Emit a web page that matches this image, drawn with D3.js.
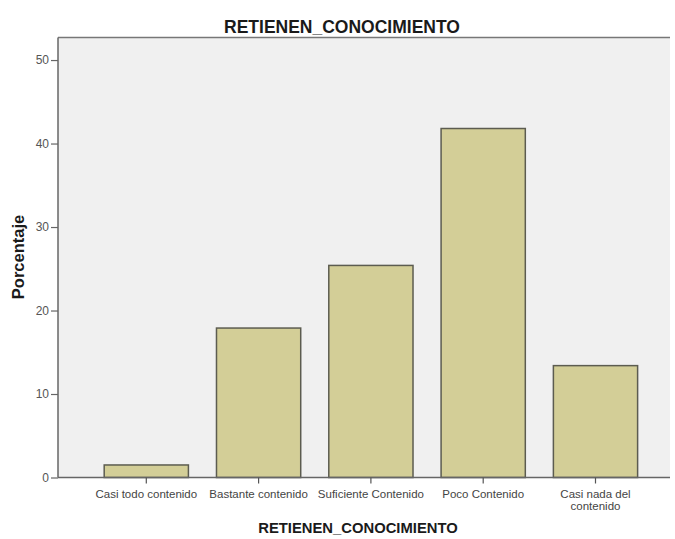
<!DOCTYPE html>
<html>
<head>
<meta charset="utf-8">
<script src="https://cdn.jsdelivr.net/npm/d3@7"></script>
<style>
  html, body { margin: 0; padding: 0; background: #ffffff; }
  svg { display: block; font-family: "Liberation Sans", Arial, sans-serif; }
</style>
</head>
<body>
<svg id="chart" width="675" height="539"></svg>
<script>
const categories = ["Casi todo contenido", "Bastante contenido", "Suficiente Contenido", "Poco Contenido", "Casi nada del contenido"];
const categoryLines = [["Casi todo contenido"], ["Bastante contenido"], ["Suficiente Contenido"], ["Poco Contenido"], ["Casi nada del", "contenido"]];
const values = [1.5, 17.9, 25.4, 41.8, 13.4];
const yTicks = [0, 10, 20, 30, 40, 50];
const chartTitle = "RETIENEN_CONOCIMIENTO";
const xTitle = "RETIENEN_CONOCIMIENTO";
const yTitle = "Porcentaje";

const svg = d3.select("#chart");
const plot = { left: 58, right: 670, top: 37.5, bottom: 477.5 };

const x = d3.scaleBand()
  .domain(categories)
  .range([90.15, 651.65])
  .paddingInner(0.25)
  .paddingOuter(0.125);

const y = d3.scaleLinear()
  .domain([0, 52.7])
  .range([plot.bottom, plot.top]);

// plot background
svg.append("rect")
  .attr("x", plot.left).attr("y", plot.top)
  .attr("width", plot.right - plot.left).attr("height", plot.bottom - plot.top)
  .attr("fill", "#f0f0f0");

// top frame line
svg.append("line")
  .attr("x1", plot.left).attr("x2", plot.right)
  .attr("y1", plot.top).attr("y2", plot.top)
  .attr("stroke", "#777").attr("stroke-width", 1.5);

// bars
svg.append("g").selectAll("rect")
  .data(values)
  .join("rect")
  .attr("x", (d, i) => x(categories[i]))
  .attr("width", x.bandwidth())
  .attr("y", d => y(d))
  .attr("height", d => y(0) - y(d))
  .attr("fill", "#d3ce97")
  .attr("stroke", "#5c5c50")
  .attr("stroke-width", 1.5);

// y axis
const yAxis = svg.append("g")
  .attr("transform", `translate(${plot.left},0)`)
  .call(d3.axisLeft(y).tickValues(yTicks).tickSize(7).tickPadding(2).tickSizeOuter(0));
yAxis.select(".domain").attr("stroke", "#666").attr("stroke-width", 1.5)
  .attr("d", `M0,${plot.top}V${plot.bottom}`);
yAxis.selectAll(".tick line").attr("stroke", "#666").attr("stroke-width", 1.2);
yAxis.selectAll(".tick text")
  .attr("font-size", 12).attr("fill", "#555")
  .attr("font-family", "'Liberation Sans', Arial, sans-serif");

// x axis
const xAxis = svg.append("g")
  .attr("transform", `translate(0,${plot.bottom})`)
  .call(d3.axisBottom(x).tickSize(6).tickSizeOuter(0).tickFormat(""));
xAxis.select(".domain").attr("stroke", "#666").attr("stroke-width", 1.5)
  .attr("d", `M${plot.left},0H${plot.right}`);
xAxis.selectAll(".tick line").attr("stroke", "#555").attr("stroke-width", 1.2);

// x tick labels (multi-line)
const xl = svg.append("g");
categories.forEach((c, i) => {
  const cx = x(c) + x.bandwidth() / 2;
  const t = xl.append("text")
    .attr("x", cx).attr("y", 497.5)
    .attr("text-anchor", "middle")
    .attr("font-size", 11.5)
    .attr("fill", "#444");
  categoryLines[i].forEach((ln, j) => {
    t.append("tspan").attr("x", cx).attr("dy", j === 0 ? 0 : 12.5).text(ln);
  });
});

// titles
svg.append("text")
  .attr("x", 342).attr("y", 33)
  .attr("text-anchor", "middle")
  .attr("font-size", 17.5).attr("font-weight", "bold").attr("fill", "#1a1a1a")
  .text(chartTitle);

svg.append("text")
  .attr("x", 358).attr("y", 533)
  .attr("text-anchor", "middle")
  .attr("font-size", 14.8).attr("font-weight", "bold").attr("fill", "#1a1a1a")
  .text(xTitle);

svg.append("text")
  .attr("transform", "translate(24,257) rotate(-90)")
  .attr("text-anchor", "middle")
  .attr("font-size", 16.5).attr("font-weight", "bold").attr("fill", "#1a1a1a")
  .text(yTitle);
</script>
</body>
</html>
